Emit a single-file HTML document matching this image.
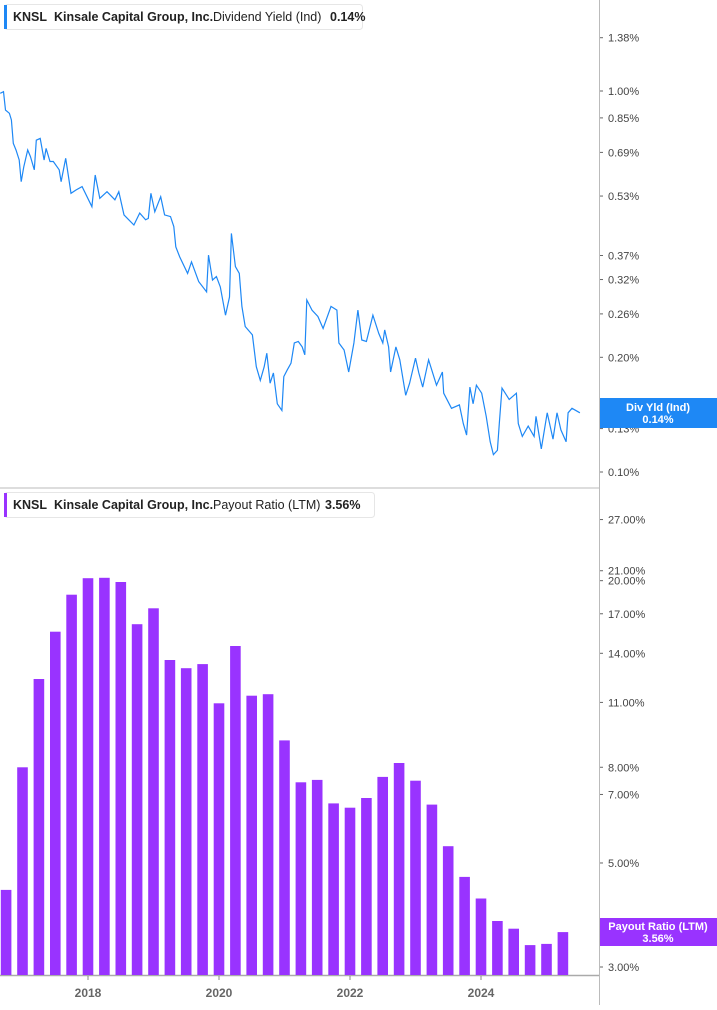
<!DOCTYPE html>
<html><head><meta charset="utf-8"><style>
body{margin:0;background:#fff;font-family:"Liberation Sans",sans-serif;}
svg text{font-family:"Liberation Sans",sans-serif;}
</style></head><body>
<svg id="c" width="717" height="1005" xmlns="http://www.w3.org/2000/svg">
<rect x="0" y="0" width="717" height="1005" fill="#fff"/>
<line x1="599.5" y1="0" x2="599.5" y2="1005" stroke="#bbb" stroke-width="1"/>
<line x1="0" y1="488" x2="599" y2="488" stroke="#ddd" stroke-width="2"/>
<line x1="0" y1="975.5" x2="599" y2="975.5" stroke="#aaa" stroke-width="1.5"/>
<g id="topAxis"></g><g id="botAxis"></g><g id="xAxis"></g>
<path id="yieldLine" fill="none" stroke="#1e88f5" stroke-width="1.2"/>
<g id="bars"></g>
<g>
<rect x="4.5" y="4.5" width="358" height="25" rx="3" fill="#fff" stroke="#e6e6e6"/>
<rect x="4" y="5" width="3" height="24" fill="#1e88f5"/>
<text x="13" y="21" font-size="12.5" font-weight="bold" fill="#222">KNSL</text>
<text x="54" y="21" font-size="12.5" font-weight="bold" fill="#222">Kinsale Capital Group, Inc.</text>
<text x="213" y="21" font-size="12.5" fill="#222">Dividend Yield (Ind)</text>
<text x="330" y="21" font-size="12.5" font-weight="bold" fill="#222">0.14%</text>
</g>
<g>
<rect x="4.5" y="492.5" width="370" height="25" rx="3" fill="#fff" stroke="#e6e6e6"/>
<rect x="4" y="493" width="3" height="24" fill="#9933ff"/>
<text x="13" y="509" font-size="12.5" font-weight="bold" fill="#222">KNSL</text>
<text x="54" y="509" font-size="12.5" font-weight="bold" fill="#222">Kinsale Capital Group, Inc.</text>
<text x="213" y="509" font-size="12.5" fill="#222">Payout Ratio (LTM)</text>
<text x="325" y="509" font-size="12.5" font-weight="bold" fill="#222">3.56%</text>
</g>
<g>
<rect x="600" y="398" width="117" height="30" fill="#1e88f5"/>
<text x="658" y="411" font-size="11" font-weight="bold" fill="#fff" text-anchor="middle">Div Yld (Ind)</text>
<text x="658" y="423" font-size="11" font-weight="bold" fill="#fff" text-anchor="middle">0.14%</text>
</g>
<g>
<rect x="600" y="918" width="117" height="28" fill="#9933ff"/>
<text x="658" y="930" font-size="11" font-weight="bold" fill="#fff" text-anchor="middle">Payout Ratio (LTM)</text>
<text x="658" y="942" font-size="11" font-weight="bold" fill="#fff" text-anchor="middle">3.56%</text>
</g>
</svg>
<script>
const NS="http://www.w3.org/2000/svg";
const lineYears=[2016.66,2016.71,2016.74,2016.80,2016.83,2016.86,2016.90,2016.95,2016.98,2017.02,2017.08,2017.12,2017.18,2017.21,2017.27,2017.33,2017.36,2017.42,2017.47,2017.56,2017.59,2017.66,2017.71,2017.74,2017.82,2017.91,2018.06,2018.11,2018.18,2018.29,2018.41,2018.47,2018.55,2018.70,2018.79,2018.88,2018.92,2018.96,2019.02,2019.11,2019.17,2019.26,2019.31,2019.34,2019.40,2019.52,2019.58,2019.69,2019.81,2019.84,2019.90,2019.96,2020.02,2020.10,2020.16,2020.19,2020.25,2020.31,2020.35,2020.40,2020.51,2020.57,2020.63,2020.69,2020.73,2020.78,2020.83,2020.89,2020.96,2020.99,2021.04,2021.10,2021.15,2021.21,2021.27,2021.31,2021.34,2021.42,2021.51,2021.59,2021.71,2021.80,2021.83,2021.91,2021.98,2022.06,2022.12,2022.18,2022.25,2022.35,2022.44,2022.50,2022.53,2022.59,2022.62,2022.70,2022.76,2022.85,2022.91,2023.00,2023.05,2023.11,2023.20,2023.32,2023.41,2023.43,2023.55,2023.67,2023.73,2023.78,2023.83,2023.88,2023.93,2024.01,2024.08,2024.14,2024.19,2024.25,2024.28,2024.32,2024.43,2024.54,2024.57,2024.63,2024.72,2024.81,2024.84,2024.92,2025.01,2025.10,2025.16,2025.22,2025.30,2025.33,2025.39,2025.51];
const lineYield=[0.986,0.996,0.891,0.874,0.839,0.729,0.700,0.659,0.578,0.633,0.700,0.673,0.621,0.743,0.751,0.659,0.707,0.653,0.653,0.621,0.578,0.666,0.584,0.539,0.550,0.561,0.497,0.602,0.523,0.544,0.518,0.544,0.473,0.445,0.478,0.459,0.463,0.539,0.482,0.528,0.473,0.468,0.441,0.390,0.367,0.332,0.356,0.316,0.297,0.371,0.319,0.326,0.306,0.258,0.288,0.423,0.346,0.332,0.272,0.241,0.229,0.189,0.174,0.189,0.205,0.171,0.182,0.151,0.145,0.178,0.185,0.193,0.218,0.220,0.213,0.203,0.283,0.266,0.256,0.238,0.272,0.266,0.218,0.209,0.183,0.218,0.266,0.222,0.220,0.258,0.231,0.218,0.236,0.213,0.183,0.213,0.197,0.159,0.171,0.199,0.182,0.167,0.197,0.169,0.183,0.161,0.147,0.150,0.134,0.125,0.167,0.151,0.169,0.161,0.140,0.120,0.111,0.114,0.134,0.166,0.155,0.161,0.134,0.124,0.132,0.124,0.140,0.115,0.143,0.122,0.143,0.129,0.120,0.143,0.147,0.143];
const barQuarters=[2016.75,2017.00,2017.25,2017.50,2017.75,2018.00,2018.25,2018.50,2018.75,2019.00,2019.25,2019.50,2019.75,2020.00,2020.25,2020.50,2020.75,2021.00,2021.25,2021.50,2021.75,2022.00,2022.25,2022.50,2022.75,2023.00,2023.25,2023.50,2023.75,2024.00,2024.25,2024.50,2024.75,2025.00,2025.25];
const payoutValues=[4.38,8.00,12.34,15.57,18.67,20.24,20.28,19.87,16.15,17.46,13.55,13.01,13.28,10.95,14.51,11.37,11.45,9.13,7.43,7.52,6.70,6.56,6.88,7.63,8.17,7.49,6.66,5.43,4.67,4.20,3.76,3.62,3.34,3.36,3.56];
const topTicks=[1.38,1.00,0.85,0.69,0.53,0.37,0.32,0.26,0.20,0.15,0.14,0.13,0.10];
const botTicks=[27,21,20,17,14,11,8,7,5,3];
const xTicks=[2018,2020,2022,2024];

const xs=y=>88+(y-2018)*65.5;
const yTop=v=>472-381*Math.log10(v/0.1);
const yBot=v=>967-468.9*Math.log10(v/3);

let d="";
lineYears.forEach((t,i)=>{d+=(i?"L":"M")+xs(t).toFixed(1)+" "+yTop(lineYield[i]).toFixed(1);});
document.getElementById("yieldLine").setAttribute("d",d);

const bars=document.getElementById("bars");
barQuarters.forEach((q,i)=>{
  const r=document.createElementNS(NS,"rect");
  const x=xs(q),y=yBot(payoutValues[i]);
  r.setAttribute("x",(x-5.3).toFixed(1));r.setAttribute("y",y.toFixed(1));
  r.setAttribute("width","10.6");r.setAttribute("height",(975-y).toFixed(1));
  r.setAttribute("fill","#9933ff");
  
  
  bars.appendChild(r);
});

function tick(g,y,label,name){
  const l=document.createElementNS(NS,"line");
  l.setAttribute("x1","600");l.setAttribute("x2","603");l.setAttribute("y1",y);l.setAttribute("y2",y);l.setAttribute("stroke","#666");
  g.appendChild(l);
  const t=document.createElementNS(NS,"text");
  t.setAttribute("x","608");t.setAttribute("y",y+4);t.setAttribute("font-size","11");t.setAttribute("fill","#444");
  t.textContent=label;
  
  
  g.appendChild(t);
}
const ta=document.getElementById("topAxis");
topTicks.forEach(v=>tick(ta,yTop(v),v.toFixed(2)+"%","yield-axis-tick-label"));
const ba=document.getElementById("botAxis");
botTicks.forEach(v=>tick(ba,yBot(v),v.toFixed(2)+"%","payout-axis-tick-label"));
const xa=document.getElementById("xAxis");
xTicks.forEach(yr=>{
  const x=xs(yr);
  const l=document.createElementNS(NS,"line");
  l.setAttribute("x1",x);l.setAttribute("x2",x);l.setAttribute("y1","976");l.setAttribute("y2","980");l.setAttribute("stroke","#888");
  xa.appendChild(l);
  const t=document.createElementNS(NS,"text");
  t.setAttribute("x",x);t.setAttribute("y","997");t.setAttribute("font-size","12");t.setAttribute("font-weight","bold");
  t.setAttribute("fill","#666");t.setAttribute("text-anchor","middle");
  t.textContent=yr;
  
  
  xa.appendChild(t);
});
</script>
</body></html>
